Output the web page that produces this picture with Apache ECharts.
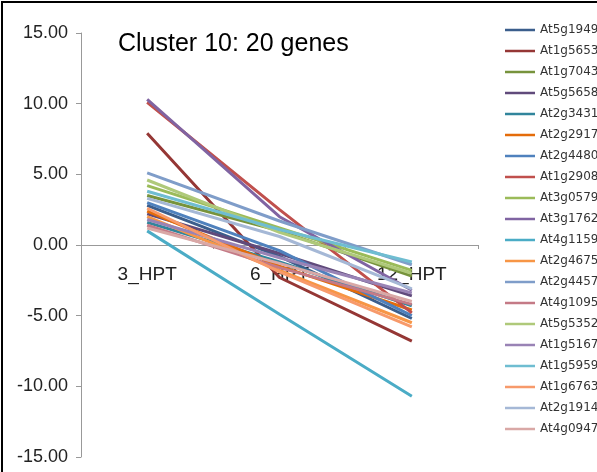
<!DOCTYPE html>
<html>
<head>
<meta charset="utf-8">
<script src="https://cdn.jsdelivr.net/npm/echarts@6/dist/echarts.min.js"></script>
<style>
html,body{margin:0;padding:0;background:#fff;}
#c{width:597px;height:472px;}
</style>
</head>
<body>
<div id="c"></div>
<script>
const categories = ['3_HPT', '6_HPT', '12_HPT'];
const yTicks = [-15, -10, -5, 0, 5, 10, 15];
const genes = ['At5g19490','At1g56530','At1g70430','At5g56580','At2g34315','At2g29170','At2g44800','At1g29080','At3g05790','At3g17620','At4g11590','At2g46750','At2g44570','At4g10955','At5g53520','At1g51670','At1g59590','At1g67635','At2g19140','At4g09470'];
const colors = ['#3B5E8C','#953735','#77933C','#604A7B','#31859C','#E46C0A','#4F81BD','#C0504D','#9BBB59','#8064A2','#4BACC6','#F79646','#7F9DC9','#C47A86','#AFC97A','#9983B5','#6FBDD1','#F79A6B','#A5B8D6','#D9A8A6'];
const At5g19490 = [2.8, -0.8, -5.2];
const At1g56530 = [7.9, -2.3, -6.8];
const At1g70430 = [3.5, 1.0, -2.2];
const At5g56580 = [2.2, -0.6, -3.6];
const At2g34315 = [1.6, -1.2, -4.3];
const At2g29170 = [2.4, -1.5, -4.6];
const At2g44800 = [3.0, -0.4, -5.0];
const At1g29080 = [10.1, 2.5, -4.8];
const At3g05790 = [4.2, 1.2, -1.8];
const At3g17620 = [10.3, 2.0, -3.2];
const At4g11590 = [1.0, -4.9, -10.7];
const At2g46750 = [2.0, -1.8, -5.5];
const At2g44570 = [5.1, 1.7, -1.4];
const At4g10955 = [1.4, -1.6, -4.2];
const At5g53520 = [4.6, 0.9, -2.0];
const At1g51670 = [1.8, -0.9, -3.4];
const At1g59590 = [3.8, 1.1, -1.2];
const At1g67635 = [2.6, -1.9, -5.8];
const At2g19140 = [3.3, 0.6, -3.1];
const At4g09470 = [1.2, -1.3, -4.0];
const seriesValues = [At5g19490,At1g56530,At1g70430,At5g56580,At2g34315,At2g29170,At2g44800,At1g29080,At3g05790,At3g17620,At4g11590,At2g46750,At2g44570,At4g10955,At5g53520,At1g51670,At1g59590,At1g67635,At2g19140,At4g09470];

const chart = echarts.init(document.getElementById('c'), null, {renderer:'canvas'});
chart.setOption({
  animation: false,
  backgroundColor: '#fff',
  color: colors,
  title: {
    text: 'Cluster 10: 20 genes',
    left: 113, top: 27,
    textStyle: {fontFamily: 'Liberation Sans', fontSize: 25, fontWeight: 'normal', color: '#000'}
  },
  legend: {
    orient: 'vertical',
    left: 500, top: 18,
    icon: 'rect',
    itemWidth: 30, itemHeight: 2.5, itemGap: 7,
    data: genes,
    textStyle: {fontFamily: 'DejaVu Sans', fontSize: 12, lineHeight: 14, color: '#333', width: 90, overflow: 'none'}
  },
  grid: {left: 81, right: 119, top: 33, bottom: 15, containLabel: false, outerBoundsMode: 'none'},
  xAxis: {
    type: 'category',
    data: categories,
    boundaryGap: true,
    offset: -212,
    axisLine: {onZero: false, lineStyle: {color: '#999', width: 1}},
    axisTick: {show: true, length: 4, lineStyle: {color: '#999'}},
    axisLabel: {margin: 20, fontFamily: 'Liberation Sans', fontSize: 19, color: '#222'},
    splitLine: {show: false}
  },
  yAxis: {
    type: 'value',
    min: yTicks[0], max: yTicks[yTicks.length-1], interval: 5,
    axisLine: {show: true, lineStyle: {color: '#999', width: 1}},
    axisTick: {show: true, length: 5, lineStyle: {color: '#999'}},
    axisLabel: {margin: 13, fontFamily: 'Liberation Sans', fontSize: 18, color: '#222', formatter: v => v.toFixed(2)},
    splitLine: {show: false}
  },
  series: genes.map((g, i) => ({
    name: g,
    type: 'line',
    data: seriesValues[i],
    symbol: 'none',
    lineStyle: {width: 3, color: colors[i]},
    itemStyle: {color: colors[i]}
  })),
  graphic: [{
    type: 'rect',
    shape: {x: 2, y: 2, width: 620, height: 500},
    style: {fill: 'none', stroke: '#000', lineWidth: 2},
    silent: true
  }]
});
</script>
</body>
</html>
